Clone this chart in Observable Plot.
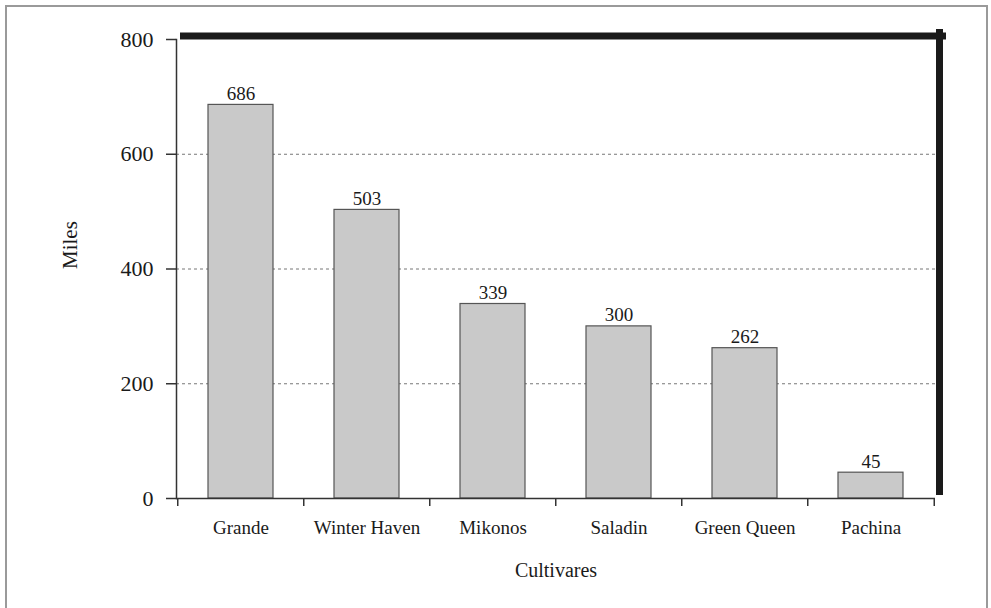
<!DOCTYPE html>
<html>
<head>
<meta charset="utf-8">
<script src="https://cdn.jsdelivr.net/npm/d3@7"></script>
<script src="https://cdn.jsdelivr.net/npm/@observablehq/plot@0.6"></script>
<style>
  html, body { margin: 0; padding: 0; background: #fff; }
  #wrap { position: relative; width: 991px; height: 608px; overflow: hidden; }
  #border { position: absolute; left: 5px; top: 5px; width: 983px; height: 620px; border: 2px solid #9a9a9a; box-sizing: border-box; pointer-events: none; }
  svg { display: block; }
</style>
</head>
<body>
<div id="wrap"><div id="border"></div></div>
<script>
const categories = ["Grande", "Winter Haven", "Mikonos", "Saladin", "Green Queen", "Pachina"];
const miles = [686, 503, 339, 300, 262, 45];
const yTicks = [0, 200, 400, 600, 800];
const gridTicks = [200, 400, 600];
const xTitle = "Cultivares";
const yTitle = "Miles";

const data = categories.map((c, i) => ({cultivar: c, miles: miles[i]}));

const W = 991, H = 608, mL = 176, mR = 56, mT = 39, mB = 110;
const step = (W - mL - mR) / categories.length;
const font = "'Liberation Serif', 'Times New Roman', serif";

const chart = Plot.plot({
  width: W, height: H,
  marginLeft: mL, marginRight: mR, marginTop: mT, marginBottom: mB,
  style: {fontFamily: font, fontSize: "20px", color: "#1a1a1a", background: "transparent"},
  x: {domain: categories, paddingInner: 0.485, paddingOuter: 0.2425, align: 0.5, label: null},
  y: {domain: [0, 800], label: null},
  marks: [
    Plot.gridY(gridTicks, {stroke: "#777", strokeOpacity: 1, strokeDasharray: "3,3", strokeWidth: 1}),
    Plot.barY(data, {x: "cultivar", y: "miles", fill: "#c9c9c9", stroke: "#555", strokeWidth: 1.2}),
    Plot.text(data, {x: "cultivar", y: "miles", text: d => String(d.miles), lineAnchor: "bottom", dy: -5, fontSize: 19, fill: "#1a1a1a"}),
    Plot.axisY(yTicks, {tickSize: 10, tickPadding: 13, fontSize: 22, stroke: "#333", strokeWidth: 1.5, fill: "#1a1a1a"}),
    Plot.axisX({tickSize: 0, tickPadding: 22, fontSize: 19, fill: "#1a1a1a"}),
    // boundary ticks below the x-axis
    Plot.axisX(categories, {tickSize: 8, text: null, dx: -step / 2, stroke: "#333", strokeWidth: 1.5}),
    Plot.axisX(categories.slice(-1), {tickSize: 8, text: null, dx: step / 2, stroke: "#333", strokeWidth: 1.5}),
    Plot.frame({anchor: "left", stroke: "#333", strokeWidth: 1.5}),
    Plot.ruleY([0], {stroke: "#333", strokeWidth: 1.5}),
    Plot.frame({anchor: "top", stroke: "#1a1a1a", strokeWidth: 7, dx: 7, dy: -3.5}),
    Plot.frame({anchor: "right", stroke: "#1a1a1a", strokeWidth: 7, dx: 4, dy: -7}),
    Plot.text([xTitle], {frameAnchor: "bottom", dy: 78, fontSize: 20, fill: "#1a1a1a"}),
    Plot.text([yTitle], {frameAnchor: "left", dx: -106, rotate: -90, fontSize: 21, fill: "#1a1a1a"})
  ]
});
document.getElementById("wrap").prepend(chart);
</script>
</body>
</html>
